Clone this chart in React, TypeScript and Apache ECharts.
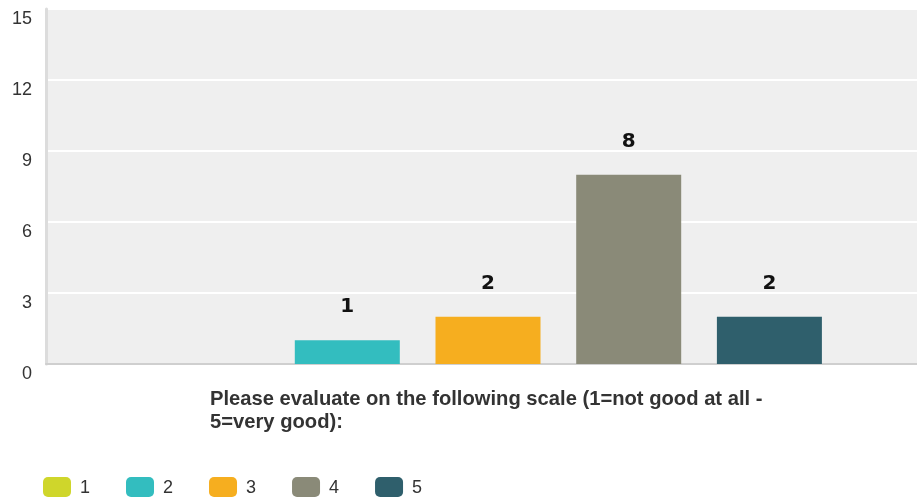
import React, { useEffect, useRef } from "react";
import * as echarts from "echarts";

const seriesNames = ["1", "2", "3", "4", "5"];
const seriesValues = [0, 1, 2, 8, 2];
const seriesColors = ["#cfd62b", "#33bdbf", "#f6ae1f", "#8a8a78", "#2f5f6c"];
const categories = [""];
const yTicks = { min: 0, max: 15, interval: 3 };
const axisTitle = "Please evaluate on the following scale (1=not good at all -\n5=very good):";

export default function App() {
  const ref = useRef<HTMLDivElement>(null);
  useEffect(() => {
    const chart = echarts.init(ref.current!, null, { renderer: "svg" });
    chart.setOption({
      animation: false,
      title: {
        text: axisTitle,
        left: 210,
        top: 386,
        padding: 0,
        textStyle: {
          fontFamily: "Liberation Sans, Arial, sans-serif",
          fontSize: 20.2,
          fontWeight: "bold",
          color: "#333",
          lineHeight: 23,
        },
      },
      legend: {
        left: 43,
        top: 477,
        padding: 0,
        itemWidth: 28,
        itemHeight: 20,
        itemGap: 36,
        icon: "roundRect",
        data: seriesNames,
        textStyle: {
          fontFamily: "Liberation Sans, Arial, sans-serif",
          fontSize: 18,
          color: "#333",
          padding: [0, 0, 0, 4],
        },
      },
      grid: {
        left: 46,
        top: 9,
        right: 0,
        height: 355,
        show: true,
        backgroundColor: "#efefef",
        borderWidth: 0,
        containLabel: false,
      },
      xAxis: {
        type: "category",
        data: categories,
        axisLine: { show: true, lineStyle: { color: "#cfcfcf", width: 2 } },
        axisTick: { show: false },
        axisLabel: { show: false },
        splitLine: { show: false },
      },
      yAxis: {
        type: "value",
        min: yTicks.min,
        max: yTicks.max,
        interval: yTicks.interval,
        axisLine: { show: true, lineStyle: { color: "#dcdcdc", width: 3 } },
        axisTick: { show: false },
        axisLabel: {
          margin: 14,
          verticalAlign: "top",
          fontFamily: "Liberation Sans, Arial, sans-serif",
          fontSize: 18,
          color: "#333",
        },
        splitLine: { show: true, lineStyle: { color: "#ffffff", width: 2 } },
      },
      series: seriesNames.map((name, i) => ({
        name,
        type: "bar",
        data: [seriesValues[i]],
        barWidth: 105,
        barGap: "34%",
        itemStyle: { color: seriesColors[i] },
        label: {
          show: seriesValues[i] > 0,
          position: "top",
          distance: 25,
          fontFamily: "DejaVu Sans, sans-serif",
          fontSize: 20,
          fontWeight: "bold",
          color: "#111",
        },
      })),
    });
    return () => chart.dispose();
  }, []);
  return (
    <div
      ref={ref}
      style={{ position: "fixed", left: 0, top: 0, width: 930, height: 497 }}
    />
  );
}
